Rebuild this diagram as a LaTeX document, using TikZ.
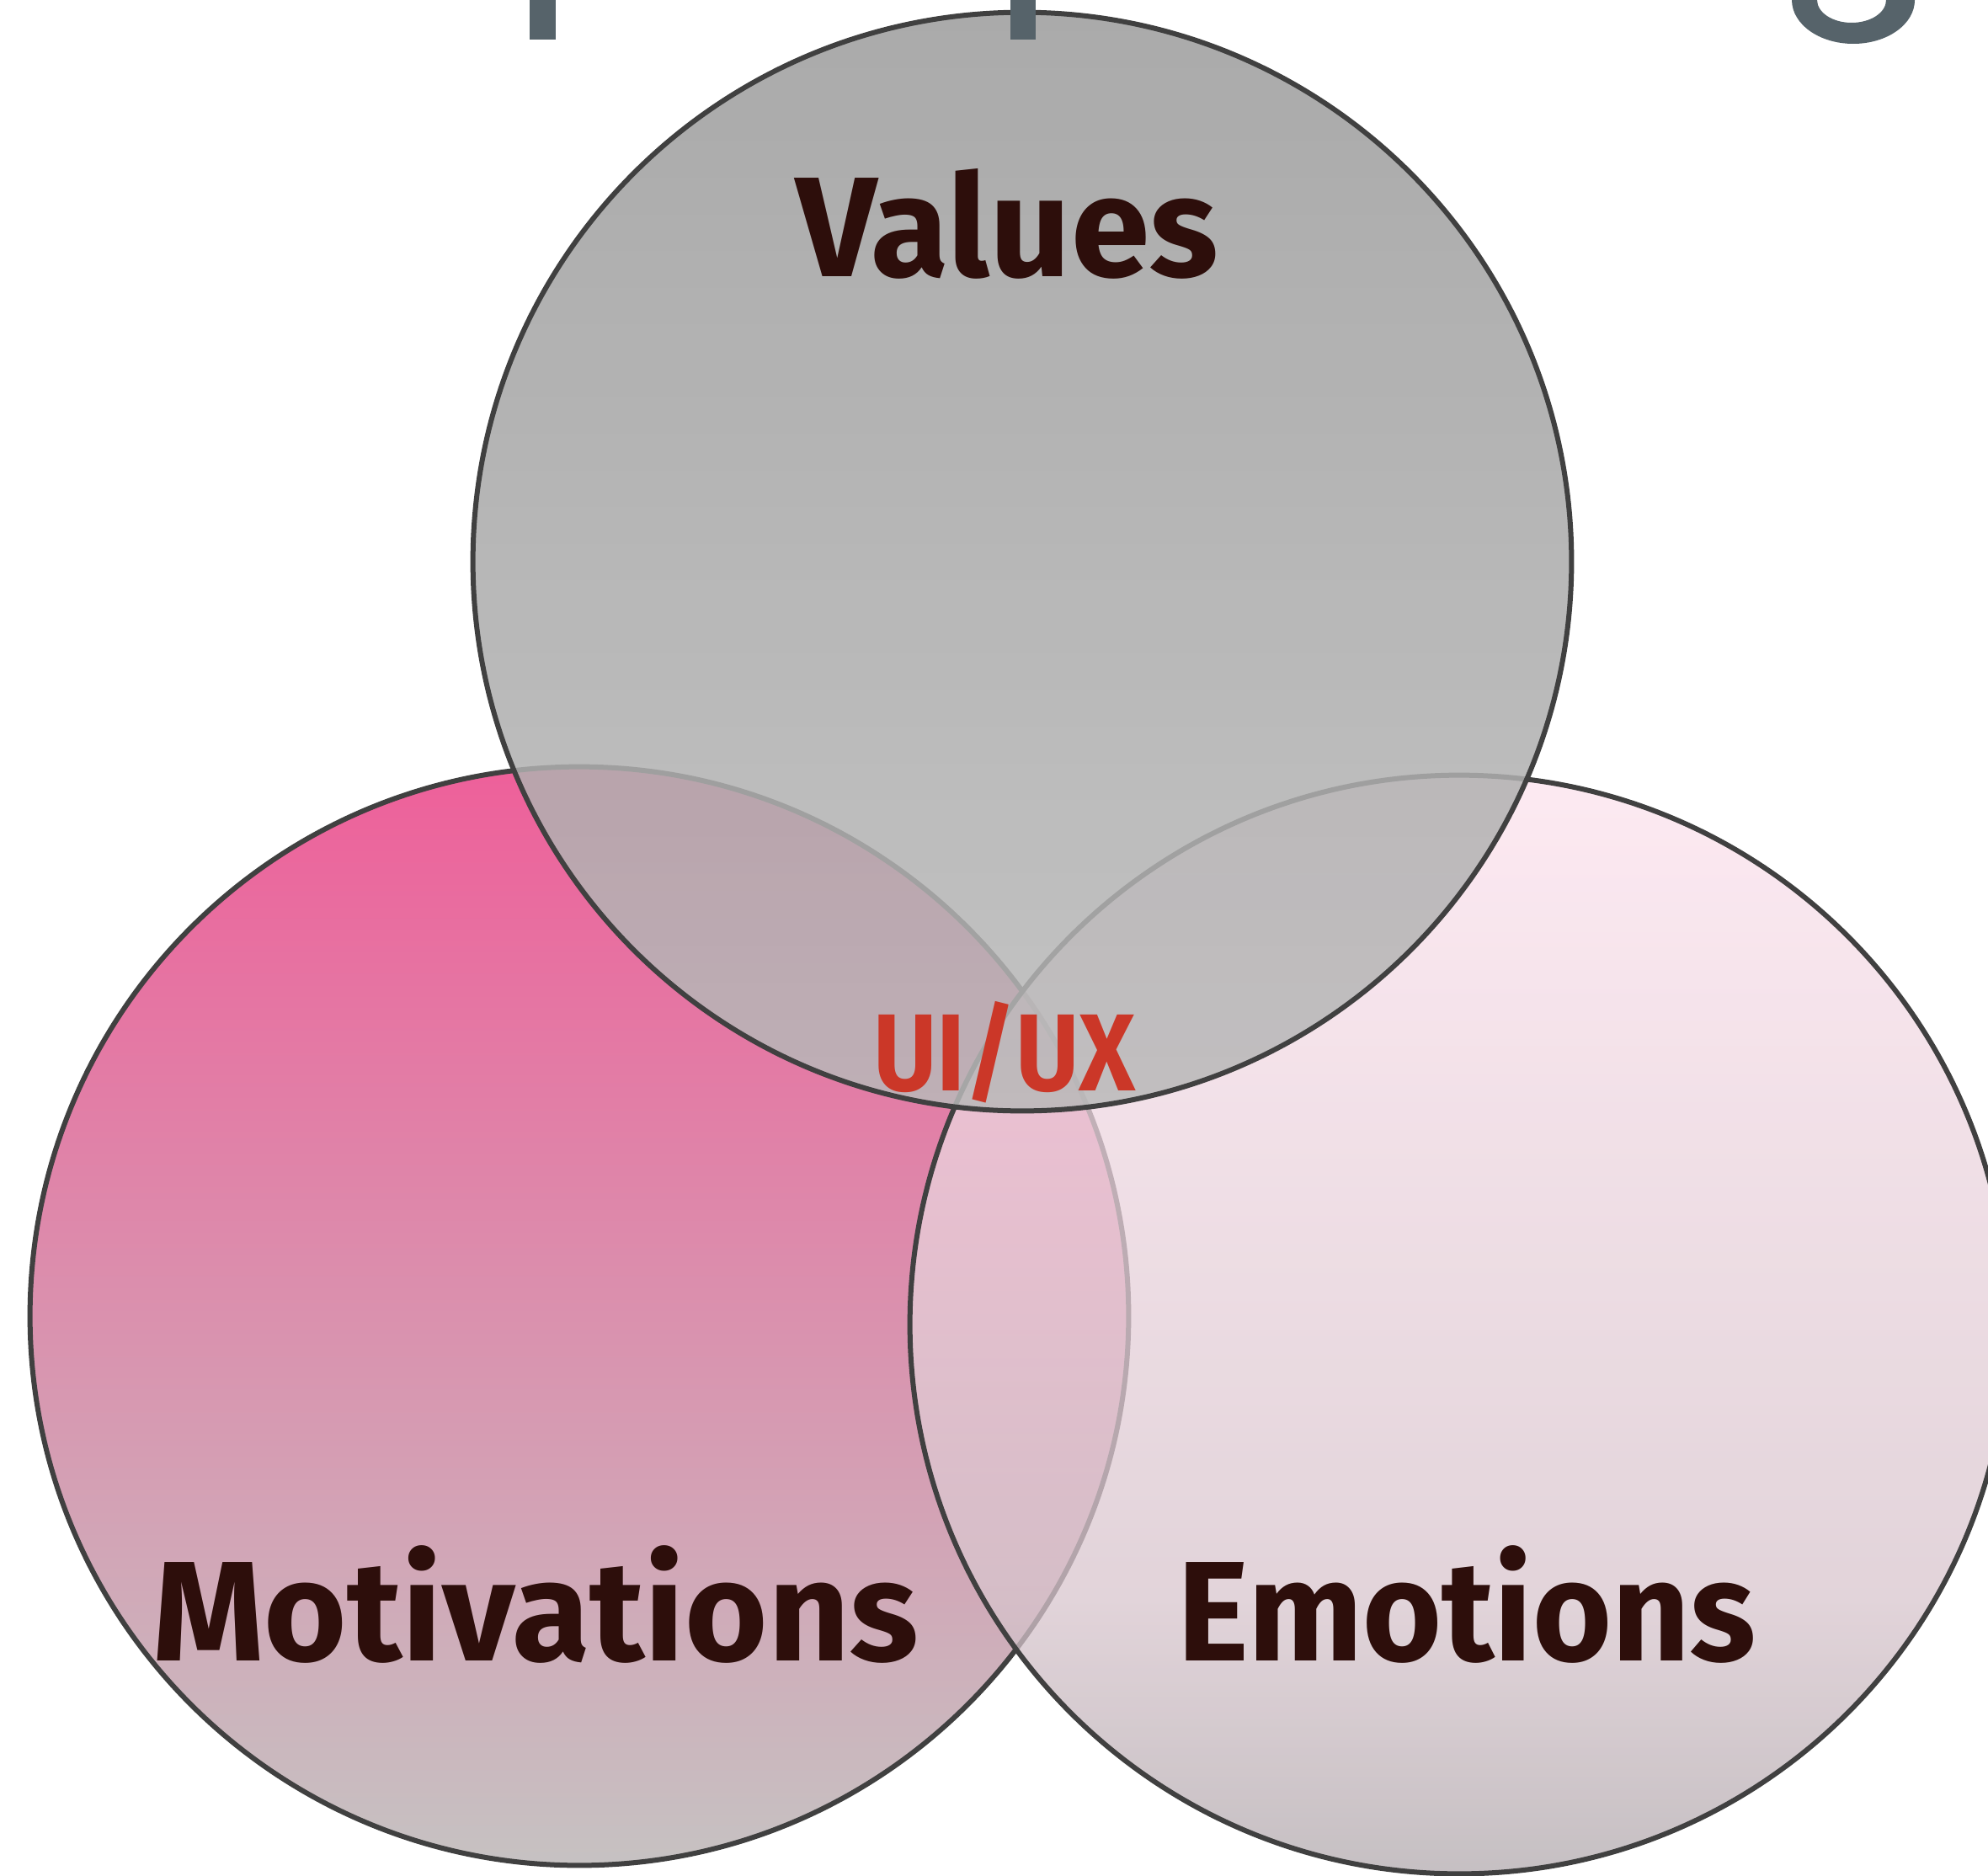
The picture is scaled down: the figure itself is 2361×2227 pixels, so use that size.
\documentclass[tikz,border=0pt]{standalone}
\usepackage{fontspec}
\newfontfamily\sketchfont{Fira Sans}

\definecolor{setline}{HTML}{404040}
\definecolor{inkbrown}{HTML}{2D0E0B}
\definecolor{uxred}{HTML}{CB3728}
\definecolor{titlegray}{HTML}{56636A}
\definecolor{valtop}{RGB}{155,155,155}
\definecolor{valbot}{RGB}{185,185,185}
\definecolor{mottop}{RGB}{238,96,154}
\definecolor{motbot}{RGB}{198,194,194}
\definecolor{emoA}{RGB}{252,226,237}
\definecolor{emoB}{RGB}{216,197,205}
\definecolor{emoC}{RGB}{178,170,174}

% light pink fading into grey, darker towards the bottom
\pgfdeclareverticalshading{emotionfill}{100bp}{color(0bp)=(emoC); color(25bp)=(emoC); color(37.5bp)=(emoB); color(75bp)=(emoA); color(100bp)=(emoA)}

\begin{document}
\begin{tikzpicture}[x=0.01cm, y=-0.01cm,
    set/.style={circle, draw=setline, line width=0.06cm, minimum size=13.04cm, inner sep=0pt},
    setname/.style={anchor=base, inner sep=0pt, text=inkbrown, font=\sketchfont\bfseries\fontsize{48}{48}\selectfont}
  ]
  \clip (0,0) rectangle (2361,2227);

  % Lower left circle
  \node[set, top color=mottop, bottom color=motbot] (motivations) at (688,1563) {};
  % Lower right circle
  \node[set, shade, shading=emotionfill, fill opacity=0.75] (emotions) at (1733,1573) {};
  % Upper circle
  \node[set, top color=valtop, bottom color=valbot, fill opacity=0.85] (values) at (1214,667) {};

  % Set names
  \node[setname] (valuesName) at (1196,328) {Values};
  \node[setname] (motivationsName) at (636,1972) {Motivations};
  \node[setname] (emotionsName) at (1742,1972) {\scalebox{0.955}[1]{Emotions}};
  % Common centre
  \node[setname, text=uxred, font=\sketchfont\bfseries\fontsize{37}{37}\selectfont] (uiux) at (1193,1295) {\scalebox{0.89}[1]{UI/UX}};

  % Title descenders cut by the top edge
  \fill[titlegray] (629,-10) rectangle (660,47);
  \fill[titlegray] (1200,-10) rectangle (1230,47);
  \fill[titlegray] (2128,0) arc[start angle=180, end angle=0, x radius=73, y radius=52]
    -- (2240,0) arc[start angle=0, end angle=180, x radius=41, y radius=27] -- cycle;
\end{tikzpicture}
\end{document}
